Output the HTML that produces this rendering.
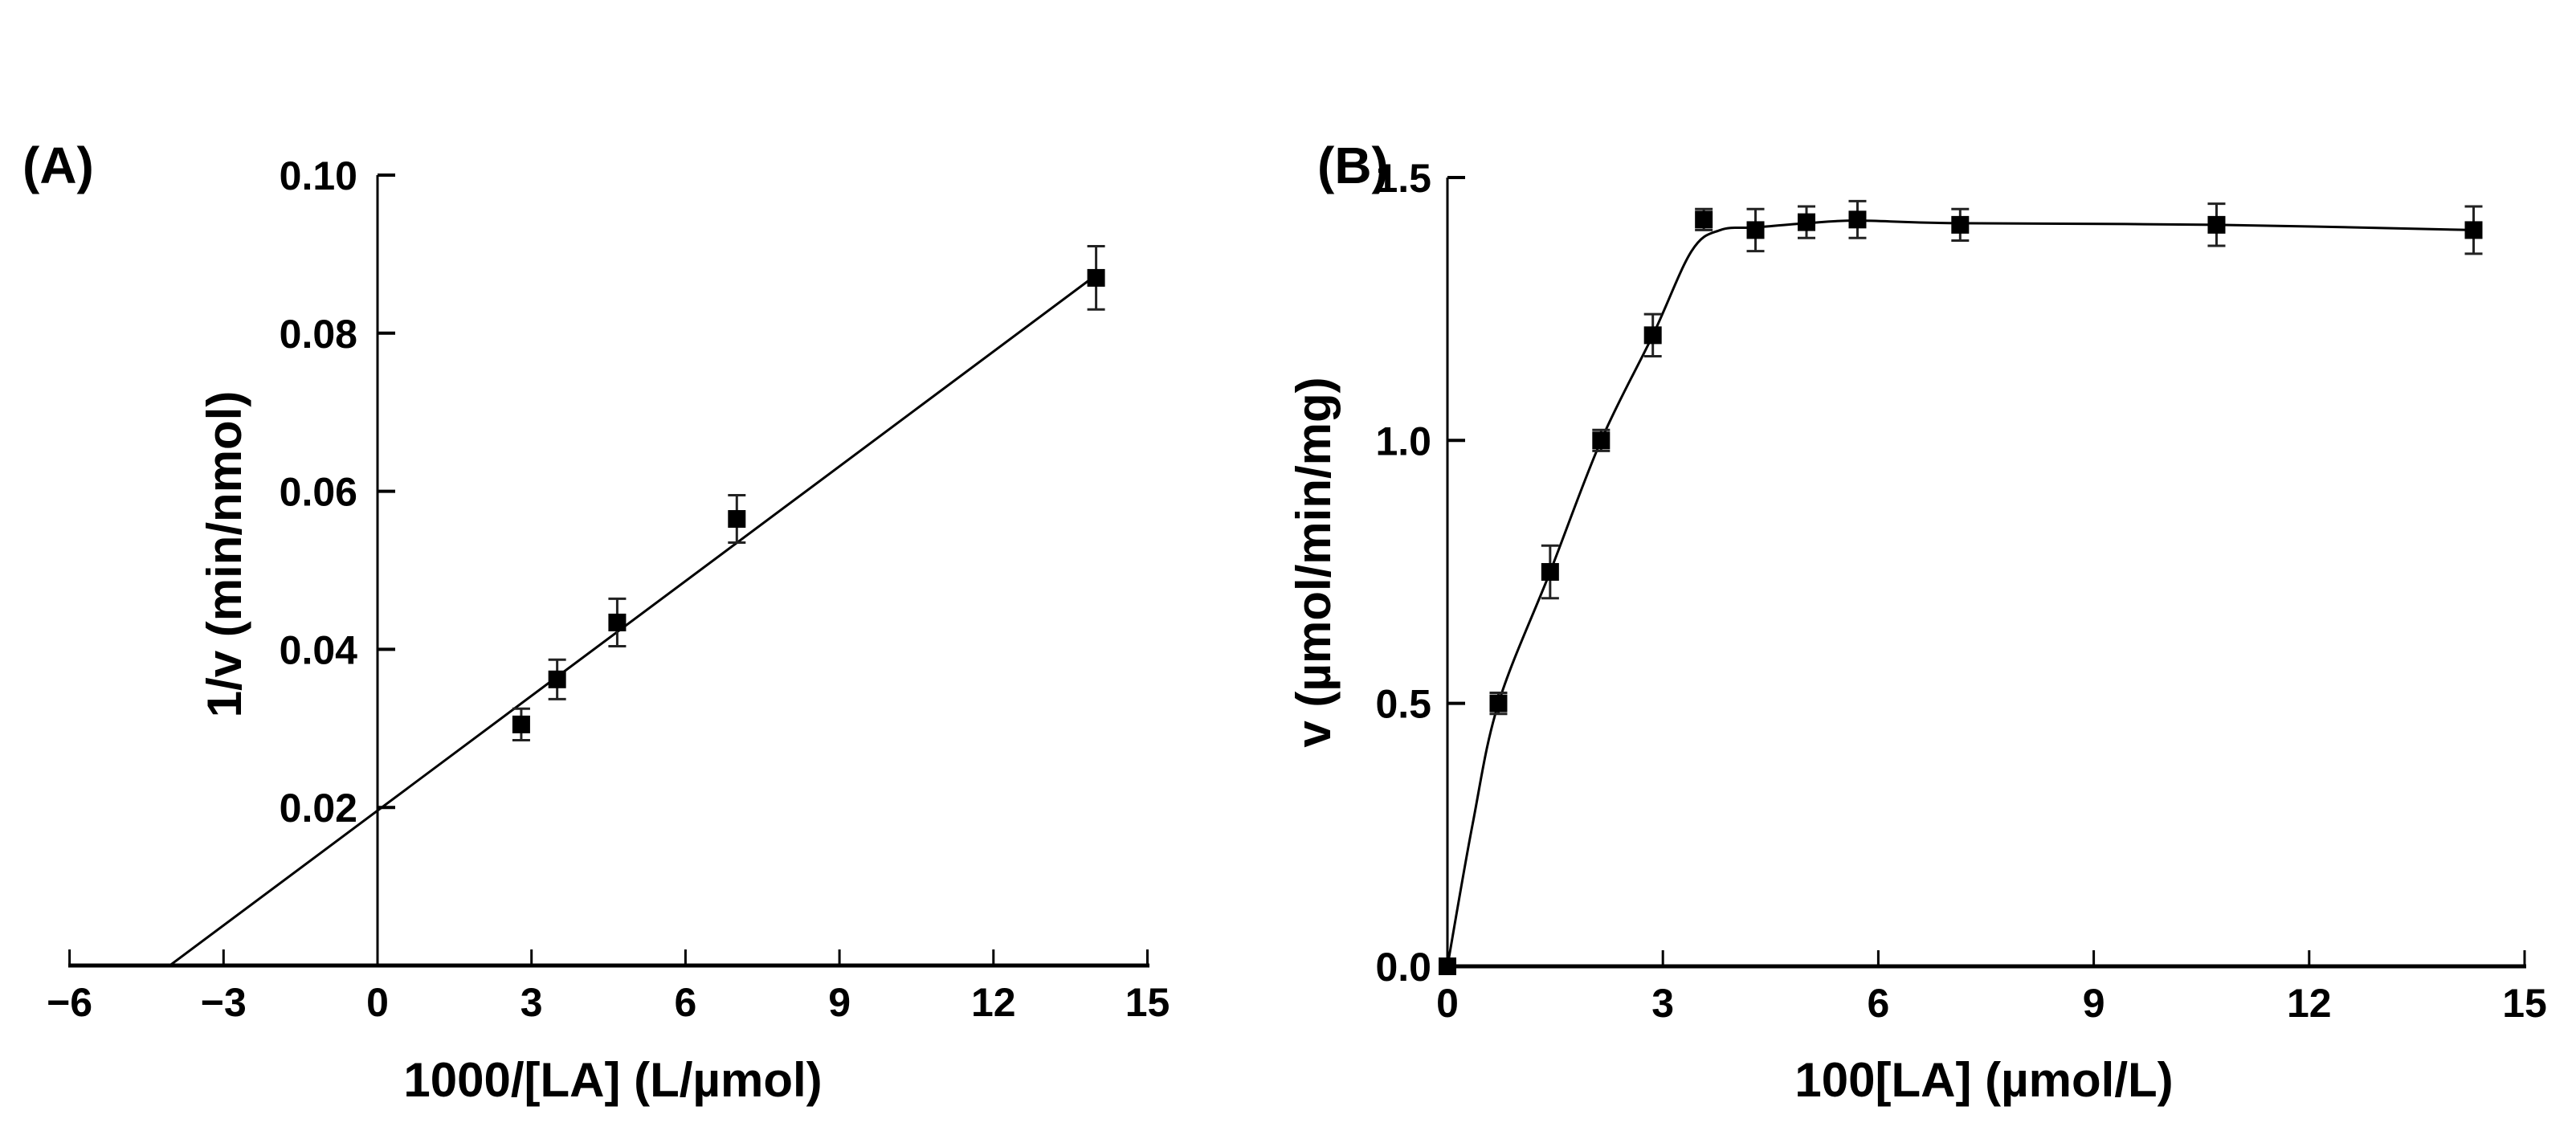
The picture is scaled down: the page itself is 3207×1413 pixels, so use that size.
<!DOCTYPE html>
<html><head><meta charset="utf-8"><style>
html,body{margin:0;padding:0;background:#fff;}
svg{display:block;font-family:"Liberation Sans",Arial,sans-serif;font-weight:bold;}
</style></head><body>
<svg id="fig" width="3207" height="1413" viewBox="0 0 3207 1413" xmlns="http://www.w3.org/2000/svg">
<text x="28" y="228" font-size="64">(A)</text>
<text x="1640" y="228" font-size="64">(B)</text>
<g id="pa"></g>
<g id="pb"></g>
</svg>
<script>
// Panel A data
const aXTicks = [-6, -3, 0, 3, 6, 9, 12, 15];
const aYTicks = [0.02, 0.04, 0.06, 0.08, 0.10];
const aYTickLabels = ["0.02", "0.04", "0.06", "0.08", "0.10"];
const aX = [2.8, 3.5, 4.67, 7.0, 14.0];
const aY = [0.0305, 0.0362, 0.0434, 0.0565, 0.087];
const aErr = [0.002, 0.0025, 0.003, 0.003, 0.004];
const aFitIntercept = 0.0196;
const aFitSlope = 0.00484;
const aFitRange = [-4.05, 14.0];
// Panel B data
const bXTicks = [0, 3, 6, 9, 12, 15];
const bYTicks = [0.0, 0.5, 1.0, 1.5];
const bYTickLabels = ["0.0", "0.5", "1.0", "1.5"];
const bX = [0, 0.71, 1.43, 2.14, 2.86, 3.57, 4.29, 5.0, 5.71, 7.14, 10.71, 14.29];
const bY = [0.0, 0.50, 0.75, 1.00, 1.20, 1.42, 1.40, 1.415, 1.42, 1.41, 1.41, 1.40];
const bErr = [0, 0.02, 0.05, 0.02, 0.04, 0.02, 0.04, 0.03, 0.035, 0.03, 0.04, 0.045];
const bCurveX = [0, 0.35, 0.71, 1.43, 2.14, 2.86, 3.4, 3.8, 4.29, 5.0, 5.71, 7.14, 10.71, 14.29];
const bCurveY = [0, 0.27, 0.50, 0.75, 1.00, 1.20, 1.36, 1.40, 1.405, 1.413, 1.418, 1.413, 1.41, 1.40];

const NS = "http://www.w3.org/2000/svg";
function mk(parent, tag, attrs, txt) {
  const e = document.createElementNS(NS, tag);
  for (const k in attrs) e.setAttribute(k, attrs[k]);
  if (txt !== undefined) e.textContent = txt;
  parent.appendChild(e);
  return e;
}
function marker(g, x, y, err, sx, sy, name) {
  const px = sx(x), py = sy(y);
  if (err > 0) {
    const t = sy(y + err), b = sy(y - err);
    const eb = mk(g, "path", {d: `M${px},${t}V${b}M${px-11},${t}H${px+11}M${px-11},${b}H${px+11}`, stroke: "#222", "stroke-width": 3, fill: "none"});
    
    
  }
  const r = mk(g, "rect", {x: px - 11, y: py - 11, width: 22, height: 22, fill: "#000"});
  
  
}

// Panel A
(function () {
  const g = document.getElementById("pa");
  const sx = v => 470 + v * 63.9;
  const sy = v => 1202 - v * 9840;
  mk(g, "line", {x1: 470, y1: 218, x2: 470, y2: 1202, stroke: "#000", "stroke-width": 3});
  mk(g, "line", {x1: 85, y1: 1202, x2: 1431, y2: 1202, stroke: "#000", "stroke-width": 5});
  aXTicks.forEach(t => {
    const x = sx(t);
    mk(g, "line", {x1: x, y1: 1202, x2: x, y2: 1182, stroke: "#000", "stroke-width": 3});
    const lab = mk(g, "text", {x: x, y: 1265, "font-size": 50, "text-anchor": "middle"}, t < 0 ? "\u2212" + (-t) : String(t));
    
    
  });
  aYTicks.forEach((t, i) => {
    const y = sy(t);
    mk(g, "line", {x1: 470, y1: y, x2: 492, y2: y, stroke: "#000", "stroke-width": 4});
    const lab = mk(g, "text", {x: 445, y: y + 18, "font-size": 50, "text-anchor": "end"}, aYTickLabels[i]);
    
    
  });
  const fit = mk(g, "line", {x1: sx(aFitRange[0]), y1: sy(aFitIntercept + aFitSlope * aFitRange[0]), x2: sx(aFitRange[1]), y2: sy(aFitIntercept + aFitSlope * aFitRange[1]), stroke: "#000", "stroke-width": 3});
  
  
  aX.forEach((x, i) => marker(g, x, aY[i], aErr[i], sx, sy, "data-point"));
  const xt = mk(g, "text", {x: 763, y: 1365, "font-size": 60, "text-anchor": "middle"}, "1000/[LA] (L/\u00b5mol)");
  
  
  const yt = mk(g, "text", {x: 0, y: 0, "font-size": 60, "text-anchor": "middle", transform: "translate(300,690) rotate(-90)"}, "1/v (min/nmol)");
  
  
})();

// Panel B
(function () {
  const g = document.getElementById("pb");
  const sx = v => 1802 + v * 89.4;
  const sy = v => 1203 - v * 654.7;
  mk(g, "line", {x1: 1802, y1: 221, x2: 1802, y2: 1203, stroke: "#000", "stroke-width": 3});
  mk(g, "line", {x1: 1800, y1: 1203, x2: 3145, y2: 1203, stroke: "#000", "stroke-width": 5});
  bXTicks.forEach(t => {
    const x = sx(t);
    mk(g, "line", {x1: x, y1: 1203, x2: x, y2: 1183, stroke: "#000", "stroke-width": 3});
    const lab = mk(g, "text", {x: x, y: 1266, "font-size": 50, "text-anchor": "middle"}, String(t));
    
    
  });
  bYTicks.forEach((t, i) => {
    const y = sy(t);
    mk(g, "line", {x1: 1802, y1: y, x2: 1824, y2: y, stroke: "#000", "stroke-width": 4});
    const lab = mk(g, "text", {x: 1782, y: y + 18, "font-size": 50, "text-anchor": "end"}, bYTickLabels[i]);
    
    
  });
  const P = bCurveX.map((x, i) => [sx(x), sy(bCurveY[i])]);
  let d = `M${P[0][0]},${P[0][1]}`;
  for (let i = 0; i < P.length - 1; i++) {
    const p0 = P[Math.max(0, i - 1)], p1 = P[i], p2 = P[i + 1], p3 = P[Math.min(P.length - 1, i + 2)];
    const c1 = [p1[0] + (p2[0] - p0[0]) / 6, p1[1] + (p2[1] - p0[1]) / 6];
    const c2 = [p2[0] - (p3[0] - p1[0]) / 6, p2[1] - (p3[1] - p1[1]) / 6];
    d += ` C${c1[0]},${c1[1]} ${c2[0]},${c2[1]} ${p2[0]},${p2[1]}`;
  }
  const curve = mk(g, "path", {d: d, stroke: "#000", "stroke-width": 3, fill: "none"});
  
  
  bX.forEach((x, i) => marker(g, x, bY[i], bErr[i], sx, sy, "data-point"));
  const xt = mk(g, "text", {x: 2470, y: 1365, "font-size": 60, "text-anchor": "middle"}, "100[LA] (\u00b5mol/L)");
  
  
  const yt = mk(g, "text", {x: 0, y: 0, "font-size": 60, "text-anchor": "middle", transform: "translate(1656,700) rotate(-90)"}, "v (\u00b5mol/min/mg)");
  
  
})();
</script>
</body></html>
